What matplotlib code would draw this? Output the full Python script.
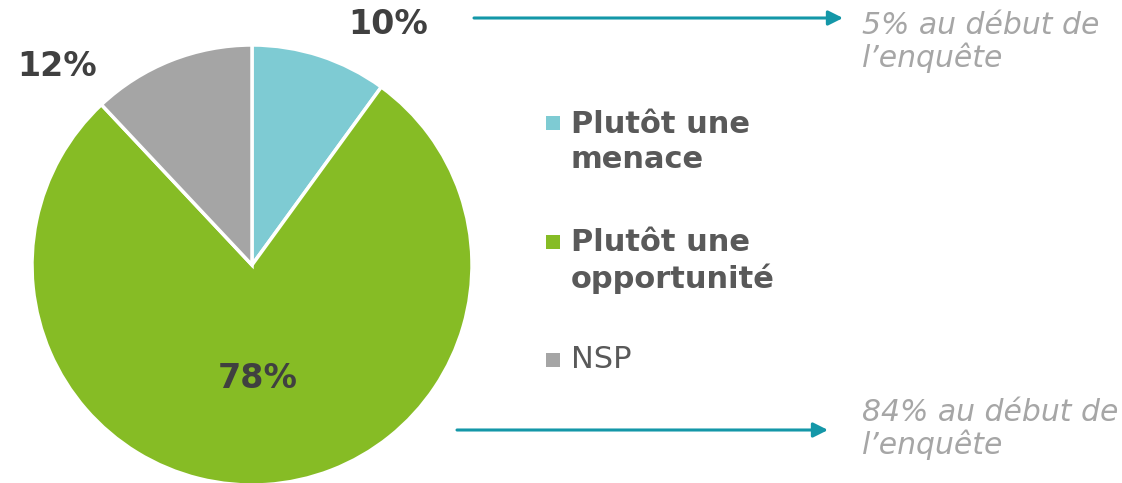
import matplotlib
matplotlib.use("Agg")
import matplotlib.pyplot as plt

# data
categories = ["Plutôt une\nmenace", "Plutôt une\nopportunité", "NSP"]
shares = [10, 78, 12]
colors = ["#7ECBD3", "#86BC25", "#A5A5A5"]
bold_label = [True, True, False]
notes = ["5% au début de\nl’enquête", "84% au début de\nl’enquête"]

W, H = 1122, 483
plt.rcParams['font.family'] = ['DejaVu Sans']

fig = plt.figure(figsize=(W / 100, H / 100), dpi=100)
ax = fig.add_axes([0, 0, 1, 1])


def py(y):
    # pixel row (top-down) to data y
    return H - y


cx, cy, r = 252, py(265), 220
wedges, _ = ax.pie(shares, colors=colors, startangle=90, counterclock=False,
                   center=(cx, cy), radius=r, frame=True,
                   wedgeprops=dict(edgecolor='white', linewidth=2.5))
ax.set_xlim(0, W)
ax.set_ylim(0, H)
ax.set_aspect('equal')
ax.axis('off')

# percentage labels
label_pos = [(388, 25), (258, 378), (57, 66)]
for val, (x, y) in zip(shares, label_pos):
    ax.text(x, py(y), f"{val}%", ha='center', va='center', fontsize=24,
            fontweight='bold', color='#404040')

# legend drawn by hand
leg_y = [142, 261, 360]
sq_y = [123, 242, 360]
for lab, col, b, y, sy in zip(categories, colors, bold_label, leg_y, sq_y):
    ax.scatter([553], [py(sy)], marker='s', s=95, color=col, linewidths=0)
    ax.text(571, py(y), lab, ha='left', va='center', fontsize=22,
            fontweight='bold' if b else 'normal', color='#595959',
            linespacing=1.27)

# arrows to the notes
arrow_rows = [(474, 843, 18), (457, 828, 430)]
note_y = [42, 429]
for (x0, x1, y), note, ny in zip(arrow_rows, notes, note_y):
    ax.annotate("", xy=(x1, py(y)), xytext=(x0, py(y)),
                arrowprops=dict(arrowstyle='-|>', color='#1497A8', lw=2.2,
                                mutation_scale=22, shrinkA=0, shrinkB=0))
    ax.text(862, py(ny), note, ha='left', va='center', fontsize=21.5,
            style='italic', color='#A6A6A6', linespacing=1.12)

fig.savefig("out.png", dpi=100)
